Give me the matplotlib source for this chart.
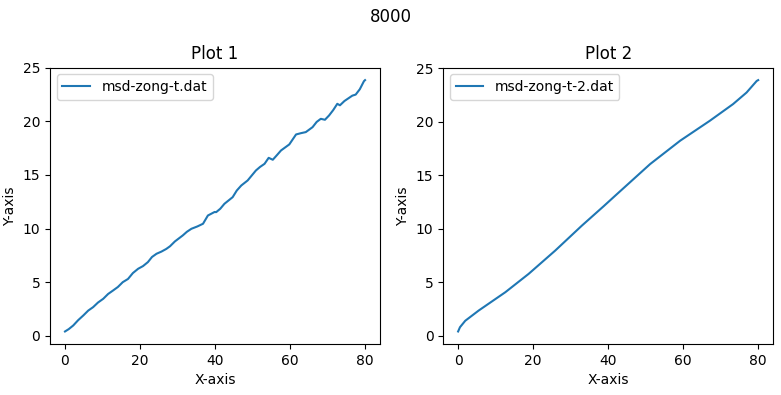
import matplotlib
matplotlib.use('Agg')
import matplotlib.pyplot as plt

# msd-zong-t.dat
x1 = [0, 1, 2.2, 3.5, 4.9, 6.2, 7.5, 8.8, 10.2, 11.5, 12.8, 14.1, 15.4, 16.8, 18.1,
      19.5, 20.8, 22.1, 23.2, 24.4, 25.7, 27, 28, 29.3, 31.4, 32.5, 33.7, 35.3, 36.8,
      38.1, 39.9, 40.3, 41.4, 42.5, 44.7, 45.8, 47, 48.7, 50.9, 52, 53.2, 54.3, 55.4,
      56.5, 57.6, 59.8, 61.6, 62.9, 64.2, 66, 67.1, 68.2, 69.3, 70.4, 71.5, 72.6, 73.3,
      74.5, 76.6, 77.5, 78.6, 79.7, 80]
y1 = [0.40, 0.62, 0.96, 1.45, 1.90, 2.35, 2.67, 3.10, 3.45, 3.90, 4.22, 4.55, 5.00,
      5.30, 5.85, 6.25, 6.50, 6.87, 7.35, 7.65, 7.85, 8.10, 8.35, 8.80, 9.36, 9.70,
      9.98, 10.20, 10.45, 11.22, 11.55, 11.53, 11.85, 12.31, 12.93, 13.55, 14.02, 14.49,
      15.42, 15.75, 16.04, 16.60, 16.42, 16.85, 17.29, 17.85, 18.78, 18.90, 19.00, 19.46,
      19.95, 20.24, 20.15, 20.55, 21.05, 21.64, 21.50, 21.90, 22.40, 22.50, 23.00, 23.75,
      23.85]

# msd-zong-t-2.dat
x2 = [0, 0.5, 1.9, 5.5, 12.6, 18.8, 25.9, 33, 38.8, 41.9, 51.2, 59.2, 67.1, 73.3,
      76.9, 79.6, 80]
y2 = [0.40, 0.80, 1.40, 2.36, 4.07, 5.78, 7.96, 10.29, 12.10, 13.09, 16.04, 18.22,
      20.08, 21.64, 22.72, 23.80, 23.88]

fig, (ax1, ax2) = plt.subplots(1, 2, figsize=(7.81, 3.95), dpi=100)

ax1.plot(x1, y1, label='msd-zong-t.dat')
ax1.set_title('Plot 1')
ax1.set_xlabel('X-axis')
ax1.set_ylabel('Y-axis')
ax1.legend(loc='upper left')

ax2.plot(x2, y2, label='msd-zong-t-2.dat')
ax2.set_title('Plot 2')
ax2.set_xlabel('X-axis')
ax2.set_ylabel('Y-axis')
ax2.legend(loc='upper left')

fig.suptitle('8000')
plt.subplots_adjust(left=0.064, right=0.990, bottom=0.129, top=0.829, wspace=0.191)
plt.savefig('out.png')
